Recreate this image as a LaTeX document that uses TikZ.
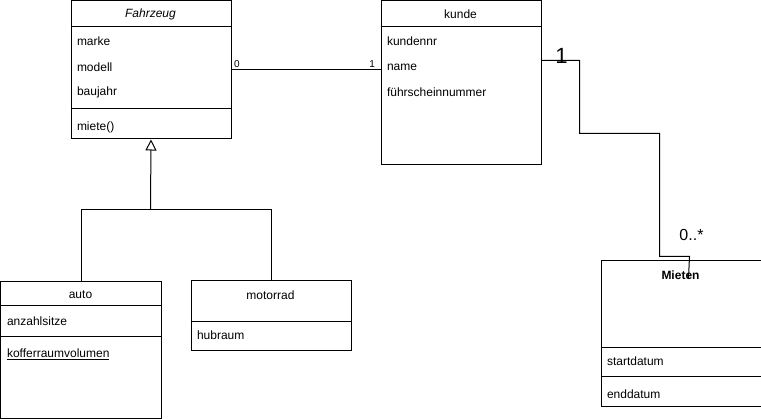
\documentclass[tikz,border=0pt]{standalone}
\usepackage{fontspec}
\setmainfont{Liberation Sans}
\usetikzlibrary{arrows.meta}

\tikzset{
	klasse/.style={draw, anchor=north west, minimum width=160pt, inner sep=0pt},
	eintrag/.style={anchor=west, inner sep=0pt, font=\fontsize{12}{14}\selectfont},
	titel/.style={inner sep=0pt, font=\fontsize{12}{14}\selectfont},
	vielfach/.style={inner sep=0pt, font=\fontsize{#1}{#1}\selectfont},
}

\begin{document}
\begin{tikzpicture}[x=1pt,y=-1pt,line width=1pt]
	\useasboundingbox (-0.5,-0.5) rectangle (760.5,418.5);
	
	% Fahrzeug
	\node[klasse, minimum height=138pt] (fahrzeug) at (70,0) {};
	\draw (70,26) -- (230,26);
	\draw (70,108) -- (230,108);
	\node[titel] (fahrzeugtitel) at (150,14) {\itshape Fahrzeug};
	\foreach \id/\y in {marke/41, modell/67, baujahr/92} {
		\node[eintrag] (\id) at (76,\y) {\id};
	}
	\node[eintrag] (miete) at (76,127) {miete()};
	
	% kunde
	\node[klasse, minimum height=164pt] (kunde) at (380,0) {};
	\draw (380,26) -- (540,26);
	\node[titel] (kundetitel) at (460,14) {kunde};
	\foreach \id/\text/\y in {kundennr/kundennr/41, kname/name/67, schein/führscheinnummer/92} {
		\node[eintrag] (\id) at (386,\y) {\text};
	}
	
	% auto
	\node[klasse, minimum height=137pt] (auto) at (0,281) {};
	\draw (0,305) -- (160,305);
	\draw (0,336) -- (160,336);
	\node[titel] (autotitel) at (80,294) {auto};
	\node[eintrag] (sitze) at (6,321) {anzahlsitze};
	\node[eintrag] (koffer) at (6,354) {\underline{kofferraumvolumen}};
	
	% motorrad
	\node[klasse, minimum height=70pt] (motorrad) at (190,280) {};
	\draw (190,321) -- (350,321);
	\node[titel] (motorradtitel) at (270,295) {motorrad};
	\node[eintrag] (hubraum) at (196,335) {hubraum};
	
	% Mieten
	\node[klasse, minimum height=146pt] (mieten) at (600,260) {};
	\draw (600,347) -- (760,347);
	\draw (600,376) -- (760,376);
	\node[titel] (mietentitel) at (680,275) {\bfseries Mieten};
	\node[eintrag] (start) at (606,361) {startdatum};
	\node[eintrag] (ende) at (606,394) {enddatum};
	
	% Vererbung
	\coordinate (knick) at (150,209);
	\draw (auto.north) |- (knick) -| (motorrad.north);
	\draw[-{Triangle[open,length=11pt,width=11pt]}] (knick) -- (fahrzeug.south);
	
	% Assoziationen
	\draw ([yshift=-69pt]fahrzeug.north east) -- ([yshift=-69pt]kunde.north west);
	\node[vielfach=10, anchor=south west] (null) at (233,68) {0};
	\node[vielfach=10, anchor=south east] (eins) at (375,68) {1};
	
	\coordinate (mietenende) at (688,278);
	\draw ([yshift=-60pt]kunde.north east) -- ++(38,0) -- ++(0,73) -- ++(80,0) -- ++(0,123) -- ++(30,0) -- (mietenende);
	\node[vielfach=22] (einskunde) at (561,55) {1};
	\node[vielfach=16] (mehrere) at (691,234) {0..*};
	
\end{tikzpicture}
\end{document}
